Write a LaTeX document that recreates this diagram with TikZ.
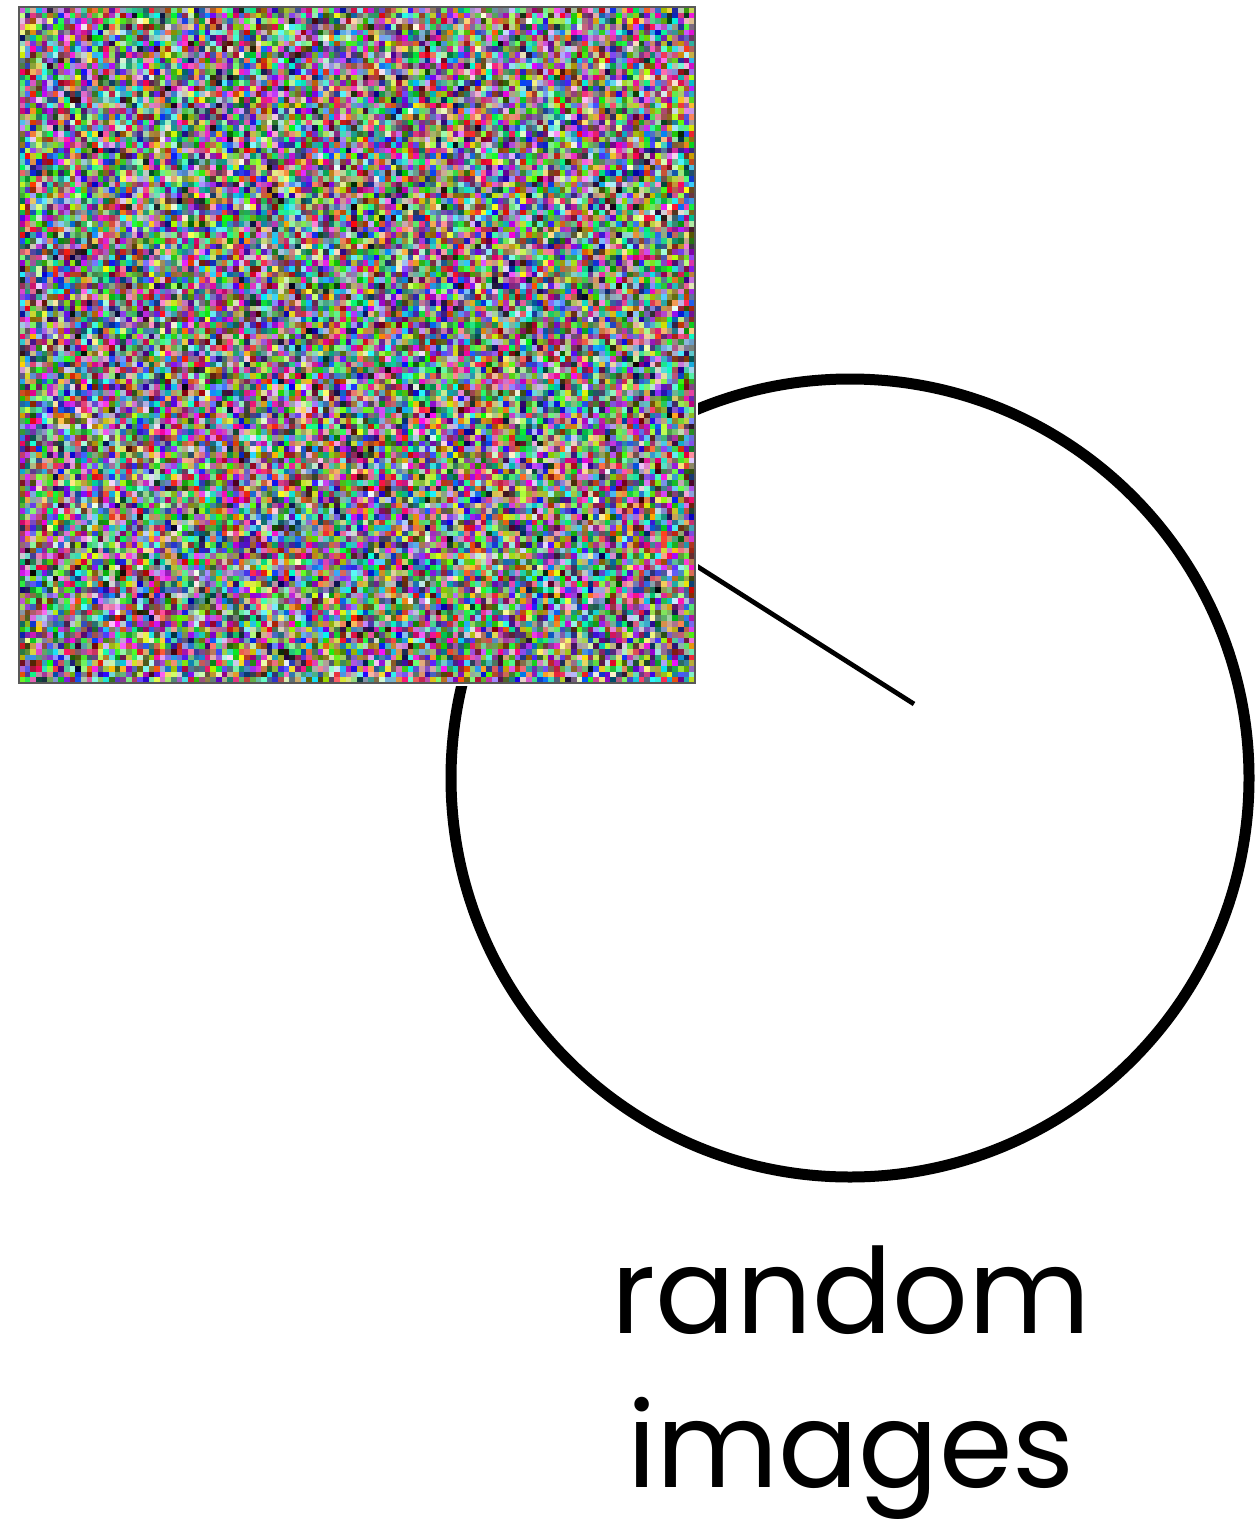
\documentclass[tikz,border=0pt]{standalone}
\usepackage{fontspec}
\setmainfont{Poppins}
\tikzset{
  ringline/.style={draw=black,line width=0.22cm,fill=white},
  spoke/.style={draw=black,line width=0.095cm},
  halo/.style={fill=white,draw=none},
  frameline/.style={draw=black!65,line width=0.025cm},
  caption/.style={anchor=base,font=\fontsize{67.5}{87.6}\selectfont,text=black,inner sep=0pt,text depth=0pt}
}
\begin{document}
\begin{tikzpicture}[x=0.02cm,y=-0.02cm]
\useasboundingbox (0,0) rectangle (1255,1523);
\fill[white] (0,0) rectangle (1255,1523);
\coordinate (ringc) at (850,778);
\coordinate (tipa) at (914,704);
\coordinate (tipb) at (690,561.8);
\draw[ringline] (ringc) circle[radius=399];
\draw[spoke] (tipb) -- (tipa);
\fill[halo] (16,4) rectangle (698,686);
\pgfmathsetseed{4217}
\begin{scope}
\foreach \j in {0,...,119}{
  \foreach \i in {0,...,119}{
    \pgfmathrandominteger{\rr}{0}{255}%
    \pgfmathrandominteger{\gg}{0}{255}%
    \pgfmathrandominteger{\bb}{0}{255}%
    \definecolor{cellc}{RGB}{\rr,\gg,\bb}%
    \pgfsetfillcolor{cellc}%
    \pgfpathrectangle{\pgfqpoint{\dimexpr 10.812pt+3.2057pt*\i\relax}{\dimexpr -3.983pt-3.2057pt*\j\relax}}{\pgfqpoint{3.3pt}{-3.3pt}}%
    \pgfusepath{fill}%
  }
}
\end{scope}
\draw[frameline] (19,7) rectangle (695,683);
\node[caption] (capa) at (851,1333) {random};
\node[caption] (capb) at (851,1487) {images};
\end{tikzpicture}
\end{document}
